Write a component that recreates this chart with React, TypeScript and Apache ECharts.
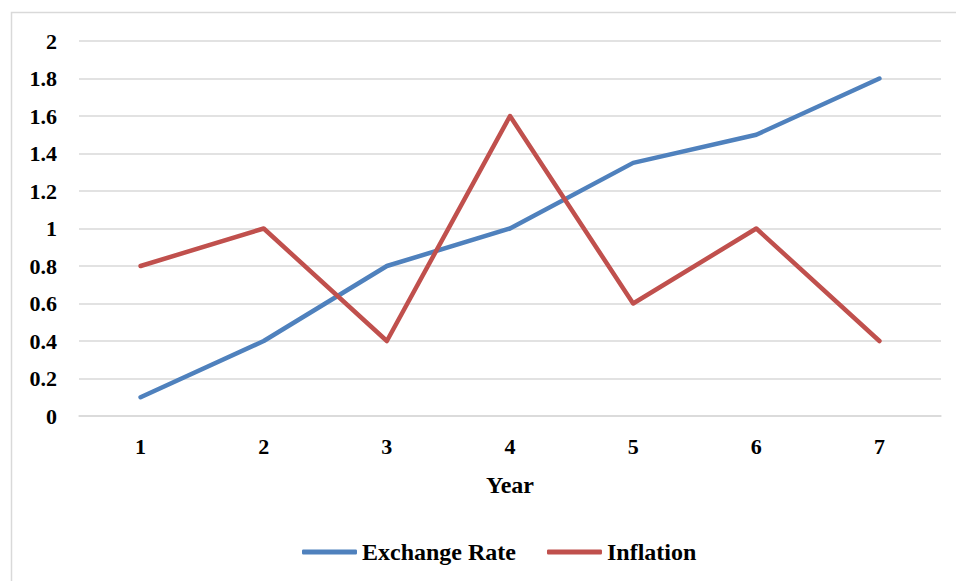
import React, { useEffect, useRef } from "react";
import * as echarts from "echarts";

const years = ["1", "2", "3", "4", "5", "6", "7"];
const exchangeRate = [0.1, 0.4, 0.8, 1.0, 1.35, 1.5, 1.8];
const inflation = [0.8, 1.0, 0.4, 1.6, 0.6, 1.0, 0.4];

const FONT = "Liberation Serif";

export default function App() {
  const ref = useRef<HTMLDivElement>(null);
  useEffect(() => {
    document.body.style.margin = "0";
    const chart = echarts.init(ref.current!, null, { renderer: "svg" });
    const txt = { fontFamily: FONT, fontWeight: "bold" as const, fontSize: 22, color: "#000" };
    chart.setOption({
      animation: false,
      backgroundColor: "#ffffff",
      textStyle: { fontFamily: FONT, fontWeight: "bold", color: "#000" },
      graphic: [
        {
          type: "rect",
          shape: { x: 11.5, y: 12.5, width: 960, height: 600 },
          style: { fill: "none", stroke: "#d9d9d9", lineWidth: 1.5 },
          silent: true,
        },
      ],
      grid: { left: 79, right: 15, top: 41, bottom: 165, containLabel: false },
      xAxis: {
        type: "category",
        data: years,
        boundaryGap: true,
        name: "Year",
        nameLocation: "middle",
        nameGap: 57,
        nameTextStyle: { ...txt, fontSize: 24 },
        axisLine: { show: true, lineStyle: { color: "#d9d9d9", width: 1.5 } },
        axisTick: { show: false },
        axisLabel: { ...txt, margin: 19 },
        splitLine: { show: false },
      },
      yAxis: {
        type: "value",
        min: 0,
        max: 2,
        interval: 0.2,
        axisLine: { show: false },
        axisTick: { show: false },
        axisLabel: {
          ...txt,
          margin: 22,
          formatter: (v: number) => String(Math.round(v * 10) / 10),
        },
        splitLine: { show: true, lineStyle: { color: "#d9d9d9", width: 1.5 } },
      },
      legend: {
        bottom: 12,
        left: 297,
        icon: "roundRect",
        itemWidth: 55,
        itemHeight: 5,
        itemGap: 31,
        textStyle: { ...txt, fontSize: 24 },
        data: ["Exchange Rate", "Inflation"],
      },
      series: [
        {
          name: "Exchange Rate",
          type: "line",
          data: exchangeRate,
          symbol: "none",
          color: "#4F81BD",
          lineStyle: { width: 4.5, color: "#4F81BD", cap: "round", join: "round" },
        },
        {
          name: "Inflation",
          type: "line",
          data: inflation,
          symbol: "none",
          color: "#C0504D",
          lineStyle: { width: 4.5, color: "#C0504D", cap: "round", join: "round" },
        },
      ],
    });
    return () => chart.dispose();
  }, []);
  return <div ref={ref} style={{ width: 956, height: 581 }} />;
}
